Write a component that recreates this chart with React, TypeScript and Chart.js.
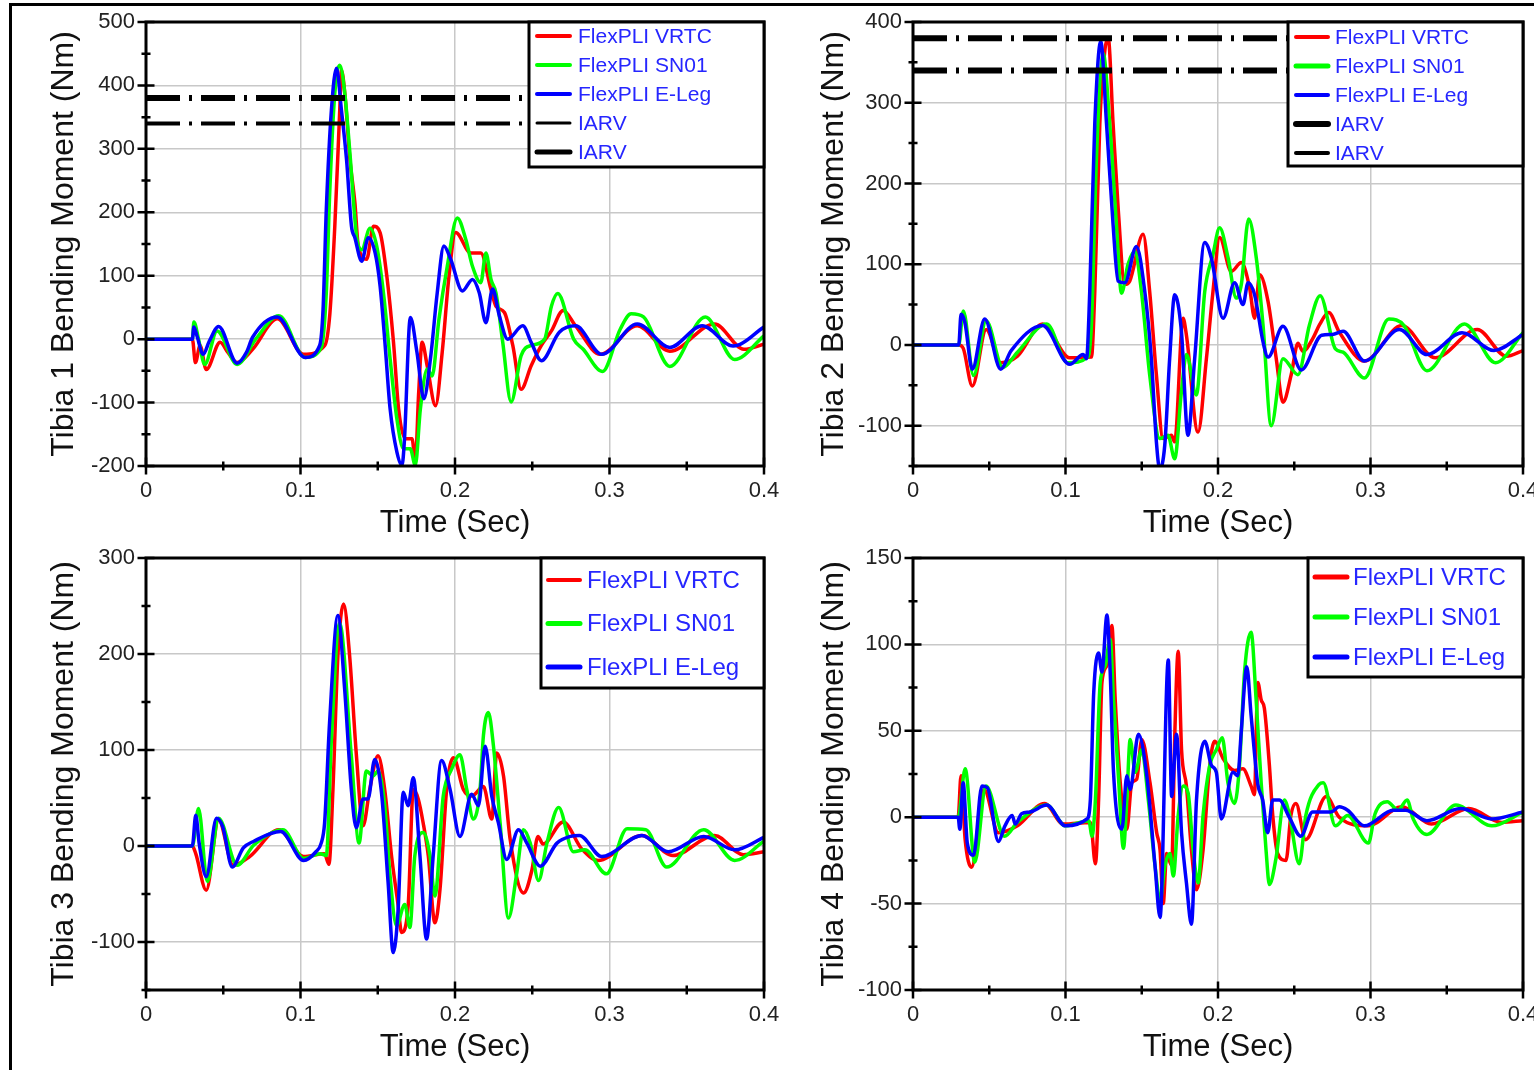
import React, { useEffect, useRef } from 'react';
import { Chart, registerables } from 'chart.js';

Chart.register(...registerables);

type Pt = [number, number];

const FONT = '"Liberation Sans", Arial, Helvetica, sans-serif';

// ---------------- labels ----------------
const seriesNames = ['FlexPLI VRTC', 'FlexPLI SN01', 'FlexPLI E-Leg'];
const iarvName = 'IARV';
const xTitle = 'Time (Sec)';
const yTitles = [
  'Tibia 1 Bending Moment (Nm)',
  'Tibia 2 Bending Moment (Nm)',
  'Tibia 3 Bending Moment (Nm)',
  'Tibia 4 Bending Moment (Nm)',
];
const xTickLabels = ['0', '0.1', '0.2', '0.3', '0.4'];
const iarvLevelsT1 = [340, 380];
const iarvLevelsT2 = [380, 340];

// ---------------- Tibia 1 ----------------
const t1Vrtc: Pt[] = [
  [0, 0], [0.03, 0], [0.032, -37], [0.035, -10], [0.039, -48], [0.048, -5], [0.053, -21], [0.059, -37],
  [0.069, -16], [0.085, 32], [0.102, -24], [0.1157, -10], [0.119, 40], [0.1222, 178], [0.1254, 361],
  [0.1265, 424], [0.1287, 387], [0.132, 283], [0.1352, 215], [0.1374, 147], [0.1428, 126], [0.1472, 178],
  [0.1515, 168], [0.1559, 99], [0.1602, -5], [0.1635, -110], [0.1678, -157], [0.1722, -157], [0.1743, -194],
  [0.1765, -84], [0.1787, -5], [0.182, -42], [0.1874, -105], [0.1917, -21], [0.1961, 99], [0.2004, 168],
  [0.2102, 136], [0.2167, 136], [0.2232, 79], [0.2265, 52], [0.232, 42], [0.2374, -10], [0.2428, -79],
  [0.2493, -42], [0.2559, -10], [0.2624, 13], [0.27, 45], [0.278, 21], [0.294, -24], [0.318, 21],
  [0.339, -19], [0.368, 24], [0.387, -16], [0.4, -8],
];
const t1Sn01: Pt[] = [
  [0, 0], [0.03, 0], [0.031, 27], [0.034, 0], [0.038, -40], [0.046, 13], [0.059, -40], [0.071, 0],
  [0.086, 37], [0.103, -29], [0.1135, -13], [0.1167, 73], [0.1189, 230], [0.1222, 387], [0.1254, 432],
  [0.1287, 387], [0.132, 293], [0.1363, 162], [0.1396, 141], [0.145, 175], [0.1493, 147], [0.1537, 73],
  [0.158, -31], [0.1624, -126], [0.1667, -173], [0.1711, -173], [0.1743, -199], [0.1776, -110],
  [0.182, -47], [0.1852, -58], [0.1896, 31], [0.195, 115], [0.2015, 191], [0.207, 157], [0.2113, 115],
  [0.2167, 89], [0.22, 136], [0.2233, 94], [0.2265, 73], [0.2309, -5], [0.2363, -99], [0.2428, -26],
  [0.2493, -10], [0.258, 0], [0.2624, 52], [0.2665, 72], [0.2768, 0], [0.283, -16], [0.2954, -51],
  [0.307, 16], [0.314, 40], [0.322, 35], [0.339, -43], [0.362, 35], [0.381, -32], [0.4, 5],
];
const t1ELeg: Pt[] = [
  [0, 0], [0.03, 0], [0.031, 19], [0.033, 5], [0.037, -24], [0.041, -3], [0.047, 20], [0.059, -38],
  [0.065, -21], [0.069, 3], [0.085, 35], [0.103, -29], [0.1124, -10], [0.1146, 47], [0.1167, 204],
  [0.12, 361], [0.1233, 427], [0.1265, 361], [0.1298, 283], [0.133, 178], [0.1352, 160], [0.1396, 123],
  [0.1439, 160], [0.1483, 136], [0.1515, 84], [0.1548, -10], [0.158, -110], [0.1624, -178], [0.1657, -199],
  [0.1672, -162], [0.1711, 34], [0.1754, -21], [0.1798, -94], [0.1841, -31], [0.1885, 73], [0.1928, 147],
  [0.1972, 126], [0.2048, 76], [0.2113, 94], [0.2157, 73], [0.22, 26], [0.2243, 79], [0.2287, 37],
  [0.2341, 0], [0.2439, 21], [0.2493, -5], [0.2559, -34], [0.2675, 11], [0.278, 21], [0.295, -24],
  [0.318, 24], [0.339, -13], [0.36, 21], [0.38, -11], [0.4, 19],
];

// ---------------- Tibia 2 ----------------
const t2Vrtc: Pt[] = [
  [0, 0], [0.03, 0], [0.0329, -4], [0.0389, -51], [0.048, 19], [0.0575, -22], [0.0685, -14], [0.085, 26],
  [0.1027, -16], [0.117, -15], [0.1192, 66], [0.1225, 274], [0.1258, 365], [0.128, 380], [0.1312, 274],
  [0.1345, 170], [0.1389, 75], [0.1421, 79], [0.1509, 137], [0.1552, 66], [0.1596, -37], [0.164, -116],
  [0.1694, -112], [0.1716, -120], [0.1771, 33], [0.1793, 12], [0.1869, -108], [0.1924, -17], [0.1967, 66],
  [0.2011, 133], [0.2087, 91], [0.2153, 102], [0.2207, 71], [0.224, 33], [0.2273, 87], [0.2328, 54],
  [0.2382, -17], [0.2426, -71], [0.248, -37], [0.2524, 2], [0.2557, -8], [0.2622, 8], [0.2666, 25],
  [0.2726, 40], [0.2795, 16], [0.296, -20], [0.3205, 24], [0.3425, -16], [0.37, 19], [0.389, -14], [0.4, -7],
];
const t2Sn01: Pt[] = [
  [0, 0], [0.03, 0], [0.033, 42], [0.0397, -38], [0.048, 30], [0.0589, -28], [0.0685, -9], [0.0877, 26],
  [0.1014, -22], [0.1148, -15], [0.117, 25], [0.1203, 232], [0.1247, 361], [0.129, 274], [0.1334, 149],
  [0.1367, 64], [0.141, 100], [0.1454, 116], [0.1498, 66], [0.1552, -37], [0.1618, -116], [0.1672, -112],
  [0.1716, -141], [0.176, -58], [0.1793, -12], [0.1858, -62], [0.1913, 66], [0.1967, 112], [0.2011, 145],
  [0.2066, 108], [0.212, 58], [0.2153, 75], [0.2201, 156], [0.2251, 108], [0.2295, 25], [0.2349, -100],
  [0.2426, -17], [0.2524, -37], [0.26, 25], [0.267, 61], [0.277, -5], [0.282, -9], [0.296, -41],
  [0.312, 32], [0.322, 24], [0.337, -32], [0.3616, 26], [0.382, -22], [0.4, 15],
];
const t2ELeg: Pt[] = [
  [0, 0], [0.03, 0], [0.0315, 38], [0.034, 28], [0.0389, -30], [0.047, 32], [0.0575, -30], [0.0644, -7],
  [0.085, 24], [0.1028, -24], [0.1116, -12], [0.1138, -17], [0.1159, 66], [0.1192, 274], [0.1231, 376],
  [0.1269, 274], [0.1312, 149], [0.1345, 79], [0.1389, 77], [0.1465, 122], [0.152, 66], [0.1563, -17],
  [0.1596, -120], [0.1618, -154], [0.1651, -124], [0.1683, -17], [0.1716, 62], [0.176, 17], [0.1803, -112],
  [0.1847, -17], [0.1913, 127], [0.1956, 108], [0.2033, 33], [0.2109, 77], [0.2164, 50], [0.2197, 77],
  [0.224, 62], [0.2295, 4], [0.2328, -15], [0.2426, 23], [0.2546, -31], [0.268, 12], [0.275, 13],
  [0.282, 17], [0.296, -20], [0.319, 19], [0.337, -12], [0.36, 15], [0.381, -7], [0.4, 13],
];

// ---------------- Tibia 3 ----------------
const t3Vrtc: Pt[] = [
  [0, 0], [0.03, 0], [0.0322, -8], [0.039, -46], [0.047, 27], [0.0564, -20], [0.0671, -11], [0.086, 17],
  [0.102, -11], [0.1155, -8], [0.1184, -19], [0.121, 59], [0.1242, 198], [0.1279, 252], [0.1318, 198],
  [0.1362, 94], [0.1405, 21], [0.1448, 59], [0.1502, 94], [0.1545, 59], [0.1589, -10], [0.1632, -62],
  [0.1654, -90], [0.1697, -62], [0.173, 59], [0.1762, 49], [0.1794, 24], [0.1827, -10], [0.187, -80],
  [0.1903, -45], [0.1946, 59], [0.199, 92], [0.2054, 59], [0.2108, 52], [0.2184, 62], [0.2238, 28],
  [0.227, 97], [0.2314, 73], [0.2357, 7], [0.2444, -49], [0.2498, -25], [0.2537, 10], [0.257, 2],
  [0.27, 25], [0.282, -3], [0.2926, -15], [0.321, 11], [0.341, -10], [0.368, 11], [0.3866, -9], [0.4, -6],
];
const t3Sn01: Pt[] = [
  [0, 0], [0.03, 0], [0.034, 39], [0.0397, -37], [0.047, 29], [0.059, -20], [0.0698, 1], [0.0886, 17],
  [0.102, -13], [0.1128, -8], [0.1167, -10], [0.12, 111], [0.1253, 232], [0.1329, 94], [0.1379, 3],
  [0.1426, 78], [0.147, 73], [0.1502, 78], [0.1545, 42], [0.1578, -28], [0.1621, -83], [0.1675, -61],
  [0.1708, -85], [0.174, -10], [0.1794, 14], [0.1838, -10], [0.187, -52], [0.1924, 52], [0.1978, 80],
  [0.2032, 95], [0.2076, 59], [0.2119, 28], [0.2162, 59], [0.2184, 115], [0.2216, 139], [0.2249, 104],
  [0.2292, 24], [0.2346, -75], [0.24, -28], [0.2443, 17], [0.2487, 3], [0.2541, -36], [0.2595, 3],
  [0.2671, 40], [0.2766, -6], [0.284, -4], [0.298, -29], [0.3114, 18], [0.3235, 17], [0.337, -22],
  [0.361, 17], [0.381, -15], [0.4, 5],
];
const t3ELeg: Pt[] = [
  [0, 0], [0.03, 0], [0.0322, 32], [0.0344, 3], [0.039, -32], [0.0456, 29], [0.0497, 20], [0.0558, -22],
  [0.063, -2], [0.0698, 5], [0.0872, 15], [0.102, -15], [0.11, -6], [0.1134, 3], [0.1156, 24],
  [0.1188, 128], [0.1242, 240], [0.1286, 163], [0.1329, 59], [0.1361, 19], [0.1405, 49], [0.1437, 49],
  [0.148, 90], [0.1524, 56], [0.1567, -38], [0.16, -111], [0.1632, -66], [0.1665, 56], [0.1697, 42],
  [0.173, 71], [0.1773, -10], [0.1816, -97], [0.1859, -10], [0.1913, 89], [0.1968, 59], [0.2032, 10],
  [0.2108, 54], [0.2152, 42], [0.2195, 104], [0.2238, 52], [0.2281, 24], [0.2335, -14], [0.2411, 17],
  [0.2465, 3], [0.2552, -21], [0.266, 3], [0.2747, 10], [0.2805, 11], [0.295, -11], [0.321, 11],
  [0.338, -6], [0.361, 10], [0.381, -4], [0.4, 9],
];

// ---------------- Tibia 4 ----------------
const t4Vrtc: Pt[] = [
  [0, 0], [0.0296, 0], [0.0315, 24], [0.0342, -13], [0.0384, -29], [0.0466, 16], [0.056, -9], [0.0685, -5],
  [0.0863, 8], [0.0986, -4], [0.1164, -3], [0.1196, -27], [0.1217, 10], [0.1239, 78], [0.1272, 88],
  [0.1304, 111], [0.1326, 68], [0.1359, 20], [0.1402, -7], [0.1435, 20], [0.1467, 22], [0.15, 45],
  [0.1554, 20], [0.1598, -9], [0.162, -19], [0.1641, -50], [0.1663, -21], [0.1696, -28], [0.1717, 49],
  [0.1739, 96], [0.1761, 39], [0.1793, 18], [0.1826, -19], [0.1859, -42], [0.1902, -19], [0.1946, 30],
  [0.1978, 44], [0.2033, 34], [0.2109, 27], [0.2163, 28], [0.2217, 18], [0.2239, 13], [0.2261, 78],
  [0.2283, 68], [0.2304, 63], [0.2337, 30], [0.2359, 1], [0.2391, -21], [0.2446, -25], [0.2478, 1],
  [0.2511, 8], [0.2575, -13], [0.271, 12], [0.2795, 0], [0.2986, -5], [0.3205, 6], [0.34, -4],
  [0.3644, 5], [0.386, -3], [0.4, -2],
];
const t4Sn01: Pt[] = [
  [0, 0], [0.0296, 0], [0.0342, 28], [0.0405, -26], [0.0479, 18], [0.06, -11], [0.0685, -3], [0.0877, 7],
  [0.1, -5], [0.1153, -2], [0.1174, -11], [0.1196, 10], [0.1228, 78], [0.1261, 88], [0.1293, 103],
  [0.1315, 68], [0.1348, 22], [0.138, -18], [0.1402, 10], [0.1424, 45], [0.1457, 26], [0.15, 39],
  [0.1543, 10], [0.1587, -28], [0.162, -48], [0.1652, -28], [0.1685, -21], [0.1707, -34], [0.1739, 1],
  [0.1772, 18], [0.1804, 14], [0.1837, -19], [0.187, -38], [0.1902, 1], [0.1946, 30], [0.1989, 39],
  [0.2028, 46], [0.2065, 20], [0.2109, 8], [0.2141, 30], [0.2174, 84], [0.2217, 107], [0.225, 68],
  [0.2283, 20], [0.2315, -19], [0.2337, -39], [0.238, -24], [0.2435, 10], [0.2467, 2], [0.2533, -27],
  [0.2576, 1], [0.2663, 19], [0.269, 20], [0.277, -5], [0.285, 1], [0.2986, -15], [0.303, 2], [0.311, 9],
  [0.318, 4], [0.324, 10], [0.328, -1], [0.337, -10], [0.356, 7], [0.3795, -5], [0.4, 3],
];
const t4ELeg: Pt[] = [
  [0, 0], [0.0296, 0], [0.0307, -7], [0.0329, 20], [0.0356, -15], [0.0397, -22], [0.0452, 18], [0.0488, 17],
  [0.056, -14], [0.0603, -5], [0.065, 1], [0.0671, -4], [0.0712, 2], [0.0767, 3], [0.0877, 7], [0.1, -5],
  [0.1141, -1], [0.1163, 10], [0.1185, 72], [0.1217, 95], [0.1239, 84], [0.1272, 117], [0.1293, 84],
  [0.1315, 26], [0.137, -7], [0.1402, 24], [0.1424, 16], [0.1478, 48], [0.1533, 24], [0.1587, -28],
  [0.162, -58], [0.1674, 91], [0.1696, 12], [0.1728, 48], [0.1761, -9], [0.1793, -38], [0.1826, -62],
  [0.1859, 10], [0.1913, 44], [0.1957, 30], [0.1989, 26], [0.2022, -1], [0.2098, 26], [0.213, 24],
  [0.2152, 49], [0.2189, 87], [0.2217, 59], [0.2261, 19], [0.2293, 10], [0.2326, -9], [0.2359, 10],
  [0.2402, 10], [0.2467, 0], [0.2543, -11], [0.262, 3], [0.274, 3], [0.2795, 6], [0.285, 4], [0.296, -5],
  [0.315, 4], [0.323, 4], [0.337, -2], [0.359, 5], [0.3795, -1], [0.4, 3],
];

// ---------------- styles / layout ----------------
const seriesColors = ['#ff0000', '#00ff00', '#0000ff'];
const GRID = '#c8c8c8';
const LEGEND_TEXT = '#2626ff';

type LegendCfg = {
  w: number; h: number; font: number; lx0: number; lx1: number; tx: number;
  row0: number; gap: number; widths: number[];
};
type PanelCfg = {
  left: number; top: number; width: number; height: number;
  padTop: number; padRight: number; yAxisW: number; xAxisH: number;
  yMin: number; yMax: number; yStep: number; yMajor: number;
  title: string; series: Pt[][]; iarv: { level: number; width: number }[];
  legend: LegendCfg;
};

const panels: PanelCfg[] = [
  {
    left: 30, top: 8, width: 770, height: 538, padTop: 14, padRight: 36, yAxisW: 116, xAxisH: 80,
    yMin: -200, yMax: 500, yStep: 50, yMajor: 100, title: yTitles[0],
    series: [t1Vrtc, t1Sn01, t1ELeg],
    iarv: [{ level: iarvLevelsT1[0], width: 4 }, { level: iarvLevelsT1[1], width: 6 }],
    legend: { w: 235, h: 145, font: 21, lx0: 8, lx1: 41, tx: 49, row0: 14, gap: 29, widths: [4, 4, 4, 3, 5] },
  },
  {
    left: 800, top: 8, width: 734, height: 538, padTop: 14, padRight: 11, yAxisW: 113, xAxisH: 80,
    yMin: -150, yMax: 400, yStep: 50, yMajor: 100, title: yTitles[1],
    series: [t2Vrtc, t2Sn01, t2ELeg],
    iarv: [{ level: iarvLevelsT2[0], width: 6 }, { level: iarvLevelsT2[1], width: 6 }],
    legend: { w: 235, h: 144, font: 21, lx0: 8, lx1: 40, tx: 47, row0: 15, gap: 29, widths: [4, 5, 4, 6, 4] },
  },
  {
    left: 30, top: 545, width: 770, height: 525, padTop: 13, padRight: 36, yAxisW: 116, xAxisH: 80,
    yMin: -150, yMax: 300, yStep: 50, yMajor: 100, title: yTitles[2],
    series: [t3Vrtc, t3Sn01, t3ELeg], iarv: [],
    legend: { w: 223, h: 130, font: 24, lx0: 7, lx1: 39, tx: 46, row0: 22, gap: 43.5, widths: [4, 5, 5] },
  },
  {
    left: 800, top: 545, width: 734, height: 525, padTop: 13, padRight: 11, yAxisW: 113, xAxisH: 80,
    yMin: -100, yMax: 150, yStep: 25, yMajor: 50, title: yTitles[3],
    series: [t4Vrtc, t4Sn01, t4ELeg], iarv: [],
    legend: { w: 215, h: 119, font: 24, lx0: 7, lx1: 39, tx: 45, row0: 19, gap: 40, widths: [5, 5, 5] },
  },
];

const near = (v: number, step: number) => Math.abs(Math.round(v / step) * step - v) < 1e-6;
const isMajorX = (v: number) => near(v, 0.1);

function makeDecor(cfg: PanelCfg) {
  return {
    id: 'decor',
    afterDraw(chart: any) {
      const { ctx, chartArea: a } = chart;
      const xs = chart.scales.x;
      const ys = chart.scales.y;
      ctx.save();
      // axis box
      ctx.strokeStyle = '#000';
      ctx.lineWidth = 3;
      ctx.lineCap = 'butt';
      ctx.strokeRect(a.left, a.top, a.right - a.left, a.bottom - a.top);
      // tick marks crossing the axes
      ctx.lineWidth = 2.5;
      ctx.beginPath();
      xs.ticks.forEach((t: any) => {
        const px = xs.getPixelForValue(t.value);
        const L = isMajorX(t.value) ? 8.5 : 4.5;
        ctx.moveTo(px, a.bottom - L);
        ctx.lineTo(px, a.bottom + L);
      });
      ys.ticks.forEach((t: any) => {
        const py = ys.getPixelForValue(t.value);
        const L = near(t.value, cfg.yMajor) ? 8.5 : 4.5;
        ctx.moveTo(a.left - L, py);
        ctx.lineTo(a.left + L, py);
      });
      ctx.stroke();
      // legend
      const lg = cfg.legend;
      const bx = a.right - lg.w;
      const by = a.top;
      ctx.fillStyle = '#fff';
      ctx.fillRect(bx, by, lg.w, lg.h);
      ctx.lineWidth = 3;
      ctx.strokeStyle = '#000';
      ctx.strokeRect(bx, by, lg.w, lg.h);
      ctx.font = `${lg.font}px ${FONT}`;
      ctx.textBaseline = 'middle';
      ctx.textAlign = 'left';
      chart.data.datasets.forEach((ds: any, i: number) => {
        const y = by + lg.row0 + i * lg.gap;
        ctx.beginPath();
        ctx.lineCap = 'round';
        ctx.strokeStyle = ds.borderColor;
        ctx.lineWidth = lg.widths[i] || 4;
        ctx.moveTo(bx + lg.lx0, y);
        ctx.lineTo(bx + lg.lx1, y);
        ctx.stroke();
        ctx.fillStyle = LEGEND_TEXT;
        ctx.fillText(ds.label, bx + lg.tx, y + 1);
      });
      ctx.restore();
    },
  };
}

function buildConfig(cfg: PanelCfg): any {
  const datasets: any[] = cfg.series.map((pts, i) => ({
    label: seriesNames[i],
    data: pts.map(([x, y]) => ({ x, y })),
    borderColor: seriesColors[i],
    backgroundColor: seriesColors[i],
    borderWidth: 3.5,
    borderJoinStyle: 'round',
    pointRadius: 0,
    fill: false,
    cubicInterpolationMode: 'monotone',
    order: 10 - i,
  }));
  cfg.iarv.forEach((iv) => {
    datasets.push({
      label: iarvName,
      data: [{ x: 0, y: iv.level }, { x: 0.4, y: iv.level }],
      borderColor: '#000',
      backgroundColor: '#000',
      borderWidth: iv.width,
      borderDash: [34, 9, 3, 9],
      borderCapStyle: 'butt',
      pointRadius: 0,
      fill: false,
      order: 0,
    });
  });
  return {
    type: 'line',
    data: { datasets },
    options: {
      animation: false,
      responsive: false,
      devicePixelRatio: 1,
      events: [],
      layout: { padding: { left: 0, top: cfg.padTop, right: cfg.padRight, bottom: 0 } },
      plugins: { legend: { display: false }, tooltip: { enabled: false } },
      scales: {
        x: {
          type: 'linear',
          min: 0,
          max: 0.4,
          ticks: {
            stepSize: 0.05,
            autoSkip: false,
            maxRotation: 0,
            padding: 12,
            color: '#222',
            font: { family: FONT, size: 22 },
            callback: (v: number) => (isMajorX(v) ? xTickLabels[Math.round(v * 10)] : ''),
          },
          grid: {
            drawTicks: false,
            lineWidth: 1.5,
            color: (c: any) => (c.tick && isMajorX(c.tick.value) ? GRID : 'rgba(0,0,0,0)'),
          },
          border: { display: false },
          title: {
            display: true,
            text: xTitle,
            color: '#111',
            font: { family: FONT, size: 31 },
            padding: { top: 0, bottom: 4 },
          },
          afterFit: (s: any) => {
            s.height = cfg.xAxisH;
            s.paddingLeft = 0;
            s.paddingRight = 0;
          },
        },
        y: {
          type: 'linear',
          min: cfg.yMin,
          max: cfg.yMax,
          ticks: {
            stepSize: cfg.yStep,
            autoSkip: false,
            padding: 11,
            color: '#222',
            font: { family: FONT, size: 22 },
            callback: (v: number) => (near(v, cfg.yMajor) ? String(Math.round(v)) : ''),
          },
          grid: {
            drawTicks: false,
            lineWidth: 1.5,
            color: (c: any) => (c.tick && near(c.tick.value, cfg.yMajor) ? GRID : 'rgba(0,0,0,0)'),
          },
          border: { display: false },
          title: {
            display: true,
            text: cfg.title,
            color: '#111',
            font: { family: FONT, size: 32 },
            padding: { top: 15, bottom: 0 },
          },
          afterFit: (s: any) => {
            s.width = cfg.yAxisW;
            s.paddingTop = 0;
            s.paddingBottom = 0;
          },
        },
      },
    },
    plugins: [makeDecor(cfg)],
  };
}

function Panel({ cfg }: { cfg: PanelCfg }) {
  const ref = useRef<HTMLCanvasElement>(null);
  useEffect(() => {
    if (!ref.current) return;
    const chart = new Chart(ref.current, buildConfig(cfg));
    return () => chart.destroy();
  }, [cfg]);
  return (
    <canvas
      ref={ref}
      width={cfg.width}
      height={cfg.height}
      style={{ position: 'absolute', left: cfg.left, top: cfg.top, width: cfg.width, height: cfg.height }}
    />
  );
}

export default function App() {
  return (
    <div
      style={{
        position: 'absolute', left: 0, top: 0, width: 1534, height: 1070,
        overflow: 'hidden', background: '#fff',
      }}
    >
      <div
        style={{
          position: 'absolute', left: 9, top: 3, width: 1700, height: 1200,
          borderTop: '3px solid #000', borderLeft: '3px solid #000',
        }}
      />
      {panels.map((p, i) => (
        <Panel key={i} cfg={p} />
      ))}
    </div>
  );
}
